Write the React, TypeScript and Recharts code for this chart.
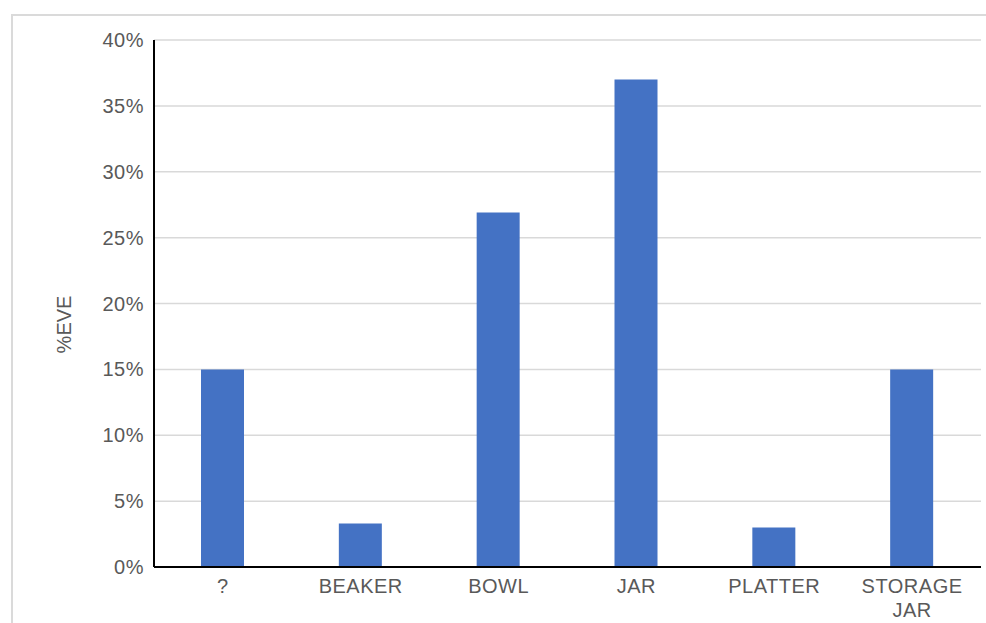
import React from "react";
import {
  BarChart,
  Bar,
  XAxis,
  YAxis,
  CartesianGrid,
  Label,
} from "recharts";

// vessel forms and their share of estimated vessel equivalents (%)
const forms = ["?", "BEAKER", "BOWL", "JAR", "PLATTER", "STORAGE JAR"];
const eve = [15, 3.3, 26.9, 37, 3, 15];
const yTicks = [0, 5, 10, 15, 20, 25, 30, 35, 40];

const data = forms.map((name, i) => ({ name, value: eve[i] }));

const FONT = "'Liberation Sans', Arial, sans-serif";
const TEXT_GRAY = "#595959";

// category label, one word per line (the band is too narrow for two)
const FormTick = (props: any) => {
  const { x, y, payload } = props;
  const words = String(payload.value).split(" ");
  return (
    <text
      x={x}
      y={y}
      textAnchor="middle"
      fontSize={20}
      fontFamily={FONT}
      letterSpacing={0.5}
      fill={TEXT_GRAY}
    >
      {words.map((w, i) => (
        <tspan key={i} x={x} dy={i === 0 ? 14 : 24}>
          {w}
        </tspan>
      ))}
    </text>
  );
};

const AxisTitle = (props: any) => {
  const { viewBox } = props;
  const cx = viewBox.x + 64;
  const cy = viewBox.y + viewBox.height / 2 + 21;
  return (
    <text
      x={cx}
      y={cy}
      transform={`rotate(-90 ${cx} ${cy})`}
      textAnchor="middle"
      dominantBaseline="central"
      fontSize={20}
      fontFamily={FONT}
      fill={TEXT_GRAY}
    >
      %EVE
    </text>
  );
};

export default function App() {
  return (
    <div
      style={{
        position: "absolute",
        left: 0,
        top: 0,
        width: 986,
        height: 623,
        overflow: "hidden",
        background: "#fff",
      }}
    >
      <div
        style={{
          position: "absolute",
          left: 11,
          top: 14,
          width: 1000,
          height: 700,
          border: "2px solid #dadada",
        }}
      />
      <div style={{ position: "absolute", left: 0, top: 0 }}>
        <BarChart
          width={986}
          height={623}
          data={data}
          margin={{ top: 40, right: 5, bottom: 0, left: 0 }}
          barCategoryGap={0}
        >
          <CartesianGrid vertical={false} stroke="#d9d9d9" strokeWidth={1.5} />
          <XAxis
            dataKey="name"
            height={56}
            tickLine={false}
            tickMargin={6}
            axisLine={{ stroke: "#000", strokeWidth: 2 }}
            interval={0}
            tick={<FormTick />}
          />
          <YAxis
            width={154}
            domain={[0, 40]}
            ticks={yTicks}
            interval={0}
            tickLine={false}
            tickMargin={4}
            axisLine={{ stroke: "#000", strokeWidth: 2 }}
            tick={{ fontSize: 20, fontFamily: FONT, fill: TEXT_GRAY, letterSpacing: 0.5 }}
            tickFormatter={(v: number) => `${v}%`}
          >
            <Label content={<AxisTitle />} />
          </YAxis>
          <Bar dataKey="value" fill="#4472c4" barSize={43} isAnimationActive={false} />
        </BarChart>
      </div>
    </div>
  );
}
